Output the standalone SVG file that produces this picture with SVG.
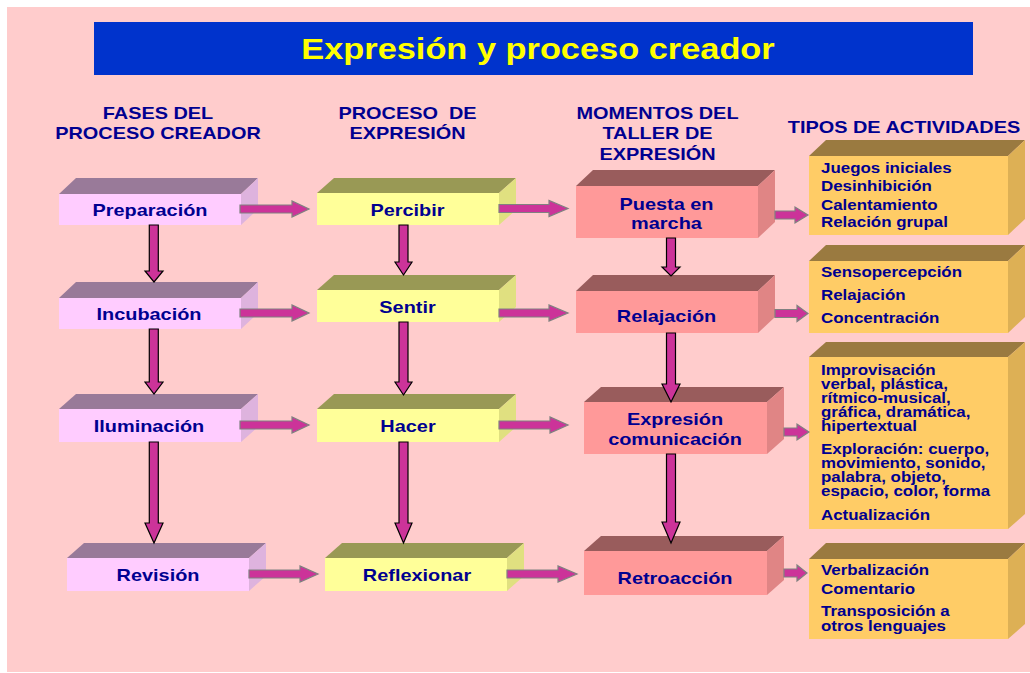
<svg xmlns="http://www.w3.org/2000/svg" width="1030" height="673" viewBox="0 0 1030 673">
<style>
text{font-family:"Liberation Sans",Arial,sans-serif;font-weight:bold;fill:#000090}
.hd{font-size:17px;text-anchor:middle}
.lb{font-size:17px;text-anchor:middle}
.ls{font-size:14px}
.title{font-size:29px;fill:#FFFF00;text-anchor:middle}
.f1{fill:#FFCCFF}.t1{fill:#997A99}.s1{fill:#DEB3DE}
.f2{fill:#FFFF99}.t2{fill:#999955}.s2{fill:#E0E080}
.f3{fill:#FF9999}.t3{fill:#995C5C}.s3{fill:#E08585}
.f4{fill:#FFCC66}.t4{fill:#9A7A40}.s4{fill:#DDB055}
.ah{fill:#CC3399;stroke:#808080;stroke-width:1.2}
.av{fill:#CC3399;stroke:#000000;stroke-width:1.2}
</style>
<rect x="0" y="0" width="1030" height="673" fill="#FFFFFF"/>
<rect x="7" y="7" width="1023" height="665" fill="#FFCCCC"/>
<g id="title">
<rect x="94" y="22" width="879" height="53" fill="#0033CC"/>
<text class="title" transform="matrix(1.185 0 0 1 538 58.5)">Expresión y proceso creador</text>
</g>
<g id="headers">
<text class="hd" transform="matrix(1.17 0 0 1 158 119)">FASES DEL</text>
<text class="hd" transform="matrix(1.17 0 0 1 158 138.5)">PROCESO CREADOR</text>
<text class="hd" transform="matrix(1.17 0 0 1 407.5 119)" xml:space="preserve">PROCESO  DE</text>
<text class="hd" transform="matrix(1.17 0 0 1 407.5 138.5)">EXPRESIÓN</text>
<text class="hd" transform="matrix(1.17 0 0 1 657.5 118.5)">MOMENTOS DEL</text>
<text class="hd" transform="matrix(1.17 0 0 1 657.5 139)">TALLER DE</text>
<text class="hd" transform="matrix(1.17 0 0 1 657.5 160)">EXPRESIÓN</text>
<text class="hd" transform="matrix(1.17 0 0 1 904 132.5)">TIPOS DE ACTIVIDADES</text>
</g>
<g id="n-preparacion">
<rect class="f1" x="59" y="194" width="182" height="31"/>
<path class="t1" d="M59,194 L76,178 L258,178 L241,194 Z"/>
<path class="s1" d="M241,194 L258,178 L258,209 L241,225 Z"/>
<text class="lb" transform="matrix(1.17 0 0 1 150 216)">Preparación</text>
</g>
<g id="n-incubacion">
<rect class="f1" x="59" y="298" width="182" height="31"/>
<path class="t1" d="M59,298 L76,282 L258,282 L241,298 Z"/>
<path class="s1" d="M241,298 L258,282 L258,313 L241,329 Z"/>
<text class="lb" transform="matrix(1.17 0 0 1 149 320)">Incubación</text>
</g>
<g id="n-iluminacion">
<rect class="f1" x="59" y="409" width="182" height="33"/>
<path class="t1" d="M59,409 L76,394 L258,394 L241,409 Z"/>
<path class="s1" d="M241,409 L258,394 L258,427 L241,442 Z"/>
<text class="lb" transform="matrix(1.17 0 0 1 149 431.5)">Iluminación</text>
</g>
<g id="n-revision">
<rect class="f1" x="67" y="558" width="182" height="33"/>
<path class="t1" d="M67,558 L84,543 L266,543 L249,558 Z"/>
<path class="s1" d="M249,558 L266,543 L266,576 L249,591 Z"/>
<text class="lb" transform="matrix(1.17 0 0 1 158 581)">Revisión</text>
</g>
<g id="n-percibir">
<rect class="f2" x="317" y="193" width="182" height="32"/>
<path class="t2" d="M317,193 L334,178 L516,178 L499,193 Z"/>
<path class="s2" d="M499,193 L516,178 L516,210 L499,225 Z"/>
<text class="lb" transform="matrix(1.17 0 0 1 407.5 215.5)">Percibir</text>
</g>
<g id="n-sentir">
<rect class="f2" x="317" y="290" width="182" height="32"/>
<path class="t2" d="M317,290 L334,275 L516,275 L499,290 Z"/>
<path class="s2" d="M499,290 L516,275 L516,307 L499,322 Z"/>
<text class="lb" transform="matrix(1.17 0 0 1 407.5 312.5)">Sentir</text>
</g>
<g id="n-hacer">
<rect class="f2" x="317" y="409" width="182" height="33"/>
<path class="t2" d="M317,409 L334,394 L516,394 L499,409 Z"/>
<path class="s2" d="M499,409 L516,394 L516,427 L499,442 Z"/>
<text class="lb" transform="matrix(1.17 0 0 1 408 431.5)">Hacer</text>
</g>
<g id="n-reflexionar">
<rect class="f2" x="325" y="558" width="182" height="33"/>
<path class="t2" d="M325,558 L342,543 L524,543 L507,558 Z"/>
<path class="s2" d="M507,558 L524,543 L524,576 L507,591 Z"/>
<text class="lb" transform="matrix(1.17 0 0 1 417 580.5)">Reflexionar</text>
</g>
<g id="n-puesta">
<rect class="f3" x="576" y="186" width="182" height="52"/>
<path class="t3" d="M576,186 L593,170 L775,170 L758,186 Z"/>
<path class="s3" d="M758,186 L775,170 L775,222 L758,238 Z"/>
<text class="lb" transform="matrix(1.17 0 0 1 666.5 209.5)">Puesta en</text>
<text class="lb" transform="matrix(1.17 0 0 1 666.5 228.5)">marcha</text>
</g>
<g id="n-relajacion">
<rect class="f3" x="576" y="291" width="182" height="42"/>
<path class="t3" d="M576,291 L593,275 L775,275 L758,291 Z"/>
<path class="s3" d="M758,291 L775,275 L775,317 L758,333 Z"/>
<text class="lb" transform="matrix(1.17 0 0 1 666.5 321.5)">Relajación</text>
</g>
<g id="n-expresion">
<rect class="f3" x="584" y="402" width="183" height="52"/>
<path class="t3" d="M584,402 L601,387 L784,387 L767,402 Z"/>
<path class="s3" d="M767,402 L784,387 L784,439 L767,454 Z"/>
<text class="lb" transform="matrix(1.17 0 0 1 675 425)">Expresión</text>
<text class="lb" transform="matrix(1.17 0 0 1 675 445)">comunicación</text>
</g>
<g id="n-retroaccion">
<rect class="f3" x="584" y="551" width="183" height="44"/>
<path class="t3" d="M584,551 L601,536 L784,536 L767,551 Z"/>
<path class="s3" d="M767,551 L784,536 L784,580 L767,595 Z"/>
<text class="lb" transform="matrix(1.17 0 0 1 675 583.5)">Retroacción</text>
</g>
<g id="n-act1">
<rect class="f4" x="809" y="156" width="199" height="79"/>
<path class="t4" d="M809,156 L826,140 L1025,140 L1008,156 Z"/>
<path class="s4" d="M1008,156 L1025,140 L1025,219 L1008,235 Z"/>
<g transform="matrix(1.21 0 0 1 821 0)">
<text class="ls" x="0" y="173">Juegos iniciales</text>
<text class="ls" x="0" y="191.5">Desinhibición</text>
<text class="ls" x="0" y="210">Calentamiento</text>
<text class="ls" x="0" y="227.5">Relación grupal</text>
</g>
</g>
<g id="n-act2">
<rect class="f4" x="809" y="261" width="199" height="72"/>
<path class="t4" d="M809,261 L826,245 L1025,245 L1008,261 Z"/>
<path class="s4" d="M1008,261 L1025,245 L1025,317 L1008,333 Z"/>
<g transform="matrix(1.21 0 0 1 821 0)">
<text class="ls" x="0" y="277.5">Sensopercepción</text>
<text class="ls" x="0" y="300.5">Relajación</text>
<text class="ls" x="0" y="323.5">Concentración</text>
</g>
</g>
<g id="n-act3">
<rect class="f4" x="809" y="357" width="199" height="172"/>
<path class="t4" d="M809,357 L826,342 L1025,342 L1008,357 Z"/>
<path class="s4" d="M1008,357 L1025,342 L1025,514 L1008,529 Z"/>
<g transform="matrix(1.21 0 0 1 821 0)">
<text class="ls" x="0" y="375">Improvisación</text>
<text class="ls" x="0" y="389">verbal, plástica,</text>
<text class="ls" x="0" y="403">rítmico-musical,</text>
<text class="ls" x="0" y="417">gráfica, dramática,</text>
<text class="ls" x="0" y="431.5">hipertextual</text>
<text class="ls" x="0" y="454">Exploración: cuerpo,</text>
<text class="ls" x="0" y="468">movimiento, sonido,</text>
<text class="ls" x="0" y="482.5">palabra, objeto,</text>
<text class="ls" x="0" y="496.5">espacio, color, forma</text>
<text class="ls" x="0" y="520">Actualización</text>
</g>
</g>
<g id="n-act4">
<rect class="f4" x="809" y="559" width="199" height="80"/>
<path class="t4" d="M809,559 L826,543 L1025,543 L1008,559 Z"/>
<path class="s4" d="M1008,559 L1025,543 L1025,624 L1008,639 Z"/>
<g transform="matrix(1.21 0 0 1 821 0)">
<text class="ls" x="0" y="575.5">Verbalización</text>
<text class="ls" x="0" y="594.5">Comentario</text>
<text class="ls" x="0" y="616.5">Transposición a</text>
<text class="ls" x="0" y="631">otros lenguajes</text>
</g>
</g>
<g id="connectors">
<path class="ah" d="M240,205 L292,205 L292,201 L309,209 L292,217 L292,213 L240,213 Z"/>
<path class="ah" d="M499,204.5 L549,204.5 L549,200.5 L568,208.5 L549,216.5 L549,212.5 L499,212.5 Z"/>
<path class="ah" d="M775,211 L795,211 L795,207 L808,215 L795,223 L795,219 L775,219 Z"/>
<path class="ah" d="M240,309 L292,309 L292,305 L309,313 L292,321 L292,317 L240,317 Z"/>
<path class="ah" d="M499,309 L549,309 L549,305 L568,313 L549,321 L549,317 L499,317 Z"/>
<path class="ah" d="M775,309.5 L797,309.5 L797,305.5 L808,313.5 L797,321.5 L797,317.5 L775,317.5 Z"/>
<path class="ah" d="M240,421 L292,421 L292,417 L309,425 L292,433 L292,429 L240,429 Z"/>
<path class="ah" d="M499,421 L550,421 L550,417 L568,425 L550,433 L550,429 L499,429 Z"/>
<path class="ah" d="M784,428 L797,428 L797,424 L809,432 L797,440 L797,436 L784,436 Z"/>
<path class="ah" d="M249,570 L300,570 L300,566 L318,574 L300,582 L300,578 L249,578 Z"/>
<path class="ah" d="M507,570 L558,570 L558,566 L577,574 L558,582 L558,578 L507,578 Z"/>
<path class="ah" d="M784,569 L797,569 L797,565 L807,573 L797,581 L797,577 L784,577 Z"/>
<path class="av" d="M149.3,225 L149.3,271 L145,271 L154,282 L163,271 L158.3,271 L158.3,225 Z"/>
<path class="av" d="M149.3,329 L149.3,382 L145,382 L154,394 L163,382 L158.3,382 L158.3,329 Z"/>
<path class="av" d="M149.3,442 L149.3,523 L145,523 L154,543 L163,523 L158.3,523 L158.3,442 Z"/>
<path class="av" d="M399,225 L399,262 L395,262 L403.5,275 L412,262 L408,262 L408,225 Z"/>
<path class="av" d="M399,322 L399,382 L395,382 L403.5,395 L412,382 L408,382 L408,322 Z"/>
<path class="av" d="M399,442 L399,523 L395,523 L403.5,543 L412,523 L408,523 L408,442 Z"/>
<path class="av" d="M666.5,238 L666.5,267 L662,267 L671,276 L680,267 L675.5,267 L675.5,238 Z"/>
<path class="av" d="M666.5,333 L666.5,384 L662,384 L671,402 L680,384 L675.5,384 L675.5,333 Z"/>
<path class="av" d="M666.5,454 L666.5,522 L662,522 L671,543 L680,522 L675.5,522 L675.5,454 Z"/>
</g>
</svg>
